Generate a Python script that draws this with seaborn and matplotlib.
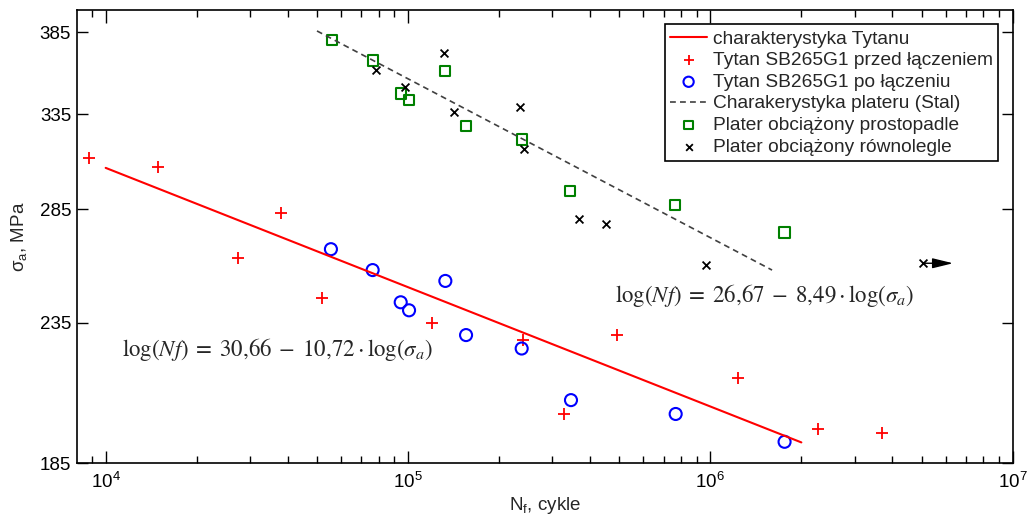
import numpy as np
import pandas as pd
import seaborn as sns
import matplotlib.pyplot as plt
from matplotlib.ticker import LogLocator, FixedLocator, FixedFormatter, NullLocator

# Tytan SB265G1 przed laczeniem
przed_N = [8.8e3, 1.49e4, 2.75e4, 3.8e4, 5.2e4, 1.2e5, 2.4e5, 3.27e5, 4.9e5, 1.23e6, 2.27e6, 3.7e6]
przed_S = [310.8, 306.3, 262.3, 283.4, 244.9, 235.0, 228.2, 201.3, 230.0, 213.9, 196.0, 194.9]

# Tytan SB265G1 po laczeniu
po_N = [5.56e4, 7.64e4, 9.46e4, 1.008e5, 1.329e5, 1.556e5, 2.377e5, 3.46e5, 7.68e5, 1.76e6]
po_S = [266.3, 257.0, 243.3, 240.0, 252.3, 230.1, 224.9, 206.0, 201.2, 191.9]

# Plater obciazony prostopadle
prost_N = [5.62e4, 7.64e4, 9.48e4, 1.008e5, 1.329e5, 1.552e5, 2.377e5, 3.44e5, 7.64e5, 1.76e6]
prost_S = [380.0, 367.1, 347.1, 343.1, 360.5, 328.5, 321.0, 294.1, 287.0, 274.0]

# Plater obciazony rownolegle (last one = runout)
row_N = [7.86e4, 9.75e4, 1.315e5, 1.423e5, 2.34e5, 2.41e5, 3.69e5, 4.51e5, 9.66e5, 5.04e6]
row_S = [360.9, 351.0, 371.7, 336.2, 339.3, 315.9, 280.3, 278.1, 259.2, 260.0]

# fitted characteristics (end points)
ti_line_N = [1e4, 2e6]
ti_line_S = [305.8, 191.7]
st_line_N = [5e4, 1.6e6]
st_line_S = [386.0, 257.0]

y_ticks = [185, 235, 285, 335, 385]

labels = {
    'ti_line': 'charakterystyka Tytanu',
    'przed': 'Tytan SB265G1 przed łączeniem',
    'po': 'Tytan SB265G1 po łączeniu',
    'st_line': 'Charakerystyka plateru (Stal)',
    'prost': 'Plater obciążony prostopadle',
    'row': 'Plater obciążony równolegle',
}

sns.set_style("ticks")
plt.rcParams['font.family'] = ['Liberation Sans', 'DejaVu Sans']
plt.rcParams['mathtext.fontset'] = 'custom'
plt.rcParams['mathtext.rm'] = 'Liberation Sans'
plt.rcParams['mathtext.it'] = 'Liberation Sans:italic'
plt.rcParams['xtick.direction'] = 'in'
plt.rcParams['ytick.direction'] = 'in'

fs = 13.5

fig, ax = plt.subplots(figsize=(10.28, 5.21), dpi=100)
plt.subplots_adjust(left=0.0746, right=0.9851, bottom=0.1107, top=0.9808)

ax.set_xscale('log')
ax.set_yscale('log')

sns.lineplot(x=ti_line_N, y=ti_line_S, color='#ff0000', linewidth=1.5,
             label=labels['ti_line'], ax=ax)
sns.scatterplot(x=przed_N, y=przed_S, marker='+', color='#ff0000', s=75,
                linewidth=1.3, label=labels['przed'], ax=ax)
sns.scatterplot(x=po_N, y=po_S, marker='o', facecolor='none', edgecolor='#0000ff',
                s=75, linewidth=1.5, label=labels['po'], ax=ax)
sns.lineplot(x=st_line_N, y=st_line_S, color='#404040', linewidth=1.2,
             linestyle=(0, (3.5, 2.5)), label=labels['st_line'], ax=ax)
sns.scatterplot(x=prost_N, y=prost_S, marker='s', facecolor='none', edgecolor='#008000',
                s=55, linewidth=1.5, label=labels['prost'], ax=ax)
sns.scatterplot(x=row_N, y=row_S, marker='x', color='black', s=32,
                linewidth=1.3, label=labels['row'], ax=ax)

# runout arrow
ax.annotate('', xy=(row_N[-1] * 1.26, row_S[-1]), xytext=(row_N[-1], row_S[-1]),
            arrowprops=dict(arrowstyle='-|>,head_length=0.9,head_width=0.22', color='black',
                            lw=1, mutation_scale=14, shrinkA=0, shrinkB=0))

ax.text(0.0484, 0.25, r'$\log(Nf)\;=\;30{,}66\;-\;10{,}72\cdot\log(\sigma_a)$',
        transform=ax.transAxes, fontsize=16.5, va='center', ha='left', math_fontfamily='stix')
ax.text(0.575, 0.371, r'$\log(Nf)\;=\;26{,}67\;-\;8{,}49\cdot\log(\sigma_a)$',
        transform=ax.transAxes, fontsize=16.5, va='center', ha='left', math_fontfamily='stix')

ax.set_xlim(8.02e3, 1e7)
ax.set_ylim(185, 400)

ax.xaxis.set_major_locator(LogLocator(base=10, numticks=10))
ax.xaxis.set_minor_locator(LogLocator(base=10, subs=np.arange(2, 10), numticks=20))
ax.yaxis.set_major_locator(FixedLocator(y_ticks))
ax.yaxis.set_major_formatter(FixedFormatter([str(t) for t in y_ticks]))
ax.yaxis.set_minor_locator(NullLocator())

ax.tick_params(which='both', top=True, right=True, colors='black', labelsize=fs)
ax.tick_params(axis='y', which='major', length=8, width=1, pad=4)
ax.tick_params(axis='x', which='major', length=9, width=1, pad=6)
ax.tick_params(axis='x', which='minor', length=5, width=1)
for sp in ax.spines.values():
    sp.set_color('black')
    sp.set_linewidth(1.2)

ax.set_xlabel('N$_\\mathregular{f}$, cykle', fontsize=fs, labelpad=2)
ax.set_ylabel('σ$_\\mathregular{a}$, MPa', fontsize=fs, labelpad=8)

leg = ax.legend(loc='upper right', fontsize=13.8, frameon=True, fancybox=False,
                framealpha=1, edgecolor='black', handlelength=1.9, handletextpad=0.3,
                labelspacing=0.22, borderpad=0.3, borderaxespad=0.75, markerscale=0.85)
leg.get_frame().set_linewidth(1.2)

plt.savefig('out.png', dpi=100)
